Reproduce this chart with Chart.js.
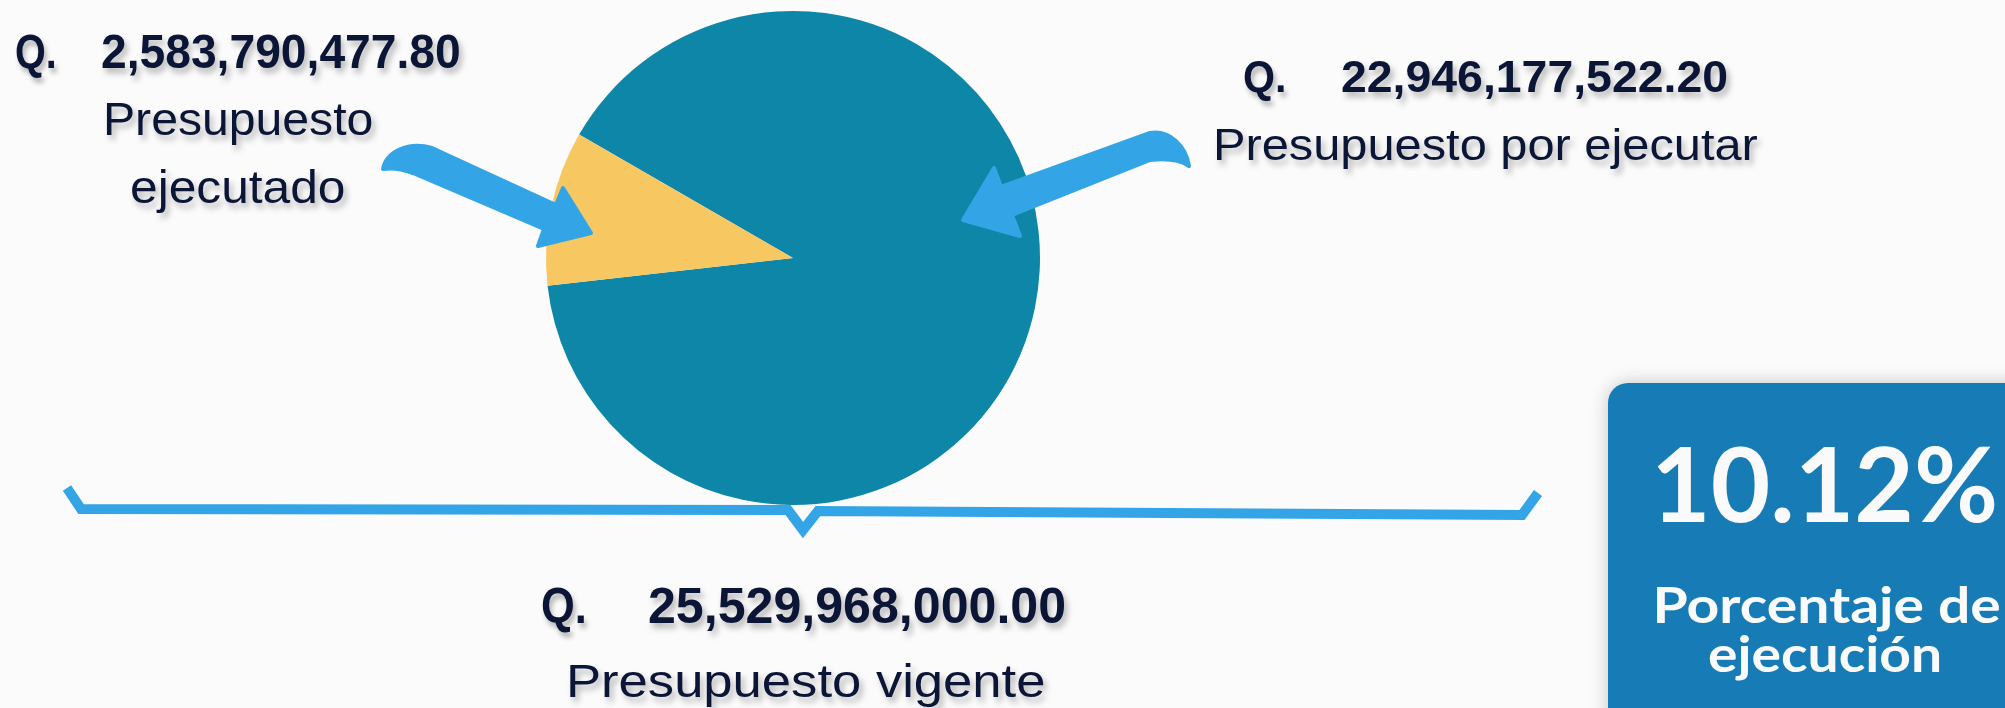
<!DOCTYPE html>
<html>
<head>
<meta charset="utf-8">
<script src="https://cdn.jsdelivr.net/npm/chart.js@4.4.1/dist/chart.umd.min.js"></script>
<style>
html, body { margin: 0; padding: 0; background: #fbfbfb; overflow: hidden; }
#wrap { position: relative; width: 2005px; height: 708px; }
#c { position: absolute; left: 0; top: 0; width: 2005px; height: 708px; }
.t { position: absolute; white-space: nowrap; line-height: 1; color: #0b1536;
     font-family: "Liberation Sans", Arial, sans-serif;
     text-shadow: 3px 5px 6px rgba(0,0,0,0.28); }
.w { color: #fafafa; font-family: Lato, sans-serif; text-shadow: none; }
#box { position: absolute; left: 1608px; top: 383px; width: 460px; height: 400px;
       background: #177cb5; border-radius: 20px; box-shadow: 0 0 18px rgba(0,0,0,0.22); }
</style>
</head>
<body>
<div id="wrap">
  <canvas id="c" width="2005" height="708"></canvas>
  <div id="box"></div>
</div>
<script>
// datos del presupuesto
var labels = ["Presupuesto por ejecutar", "Presupuesto ejecutado"];
var values = [22946177522.20, 2583790477.80];
var vigente = 25529968000.00;
var vigenteLabel = "Presupuesto vigente";
var pctLabel = ["Porcentaje de", "ejecución"];
var colors = ["#0e86a8", "#f7c862"];

function fmt(v) {
  return v.toLocaleString("en-US", { minimumFractionDigits: 2, maximumFractionDigits: 2 });
}
var pct = (values[1] / vigente * 100).toFixed(2) + "%";

// flechas y llave
var deco = {
  id: "deco",
  afterDraw: function(chart) {
    var ctx = chart.ctx;
    ctx.save();
    ctx.fillStyle = "#33a5e6";
    ctx.strokeStyle = "#33a5e6";
    ctx.lineJoin = "round";
    ctx.lineWidth = 4;

    // flecha izquierda
    ctx.beginPath();
    ctx.moveTo(383, 169);
    ctx.bezierCurveTo(386, 152, 408, 141, 432, 148);
    ctx.lineTo(556, 205);
    ctx.lineTo(563, 188);
    ctx.lineTo(591, 233);
    ctx.lineTo(538, 246);
    ctx.lineTo(544, 229);
    ctx.lineTo(413, 173);
    ctx.quadraticCurveTo(396, 167, 383, 169);
    ctx.closePath();
    ctx.fill();
    ctx.stroke();

    // flecha derecha
    ctx.beginPath();
    ctx.moveTo(1189, 166);
    ctx.bezierCurveTo(1186, 146, 1170, 130, 1150, 133);
    ctx.lineTo(1001, 187);
    ctx.lineTo(994, 168);
    ctx.lineTo(963, 220);
    ctx.lineTo(1020, 236);
    ctx.lineTo(1012, 215);
    ctx.lineTo(1150, 160);
    ctx.quadraticCurveTo(1176, 157, 1189, 166);
    ctx.closePath();
    ctx.fill();
    ctx.stroke();

    // llave inferior
    ctx.lineJoin = "miter";
    ctx.lineWidth = 10;
    ctx.beginPath();
    ctx.moveTo(67, 488);
    ctx.lineTo(81, 509);
    ctx.lineTo(788, 510);
    ctx.lineTo(803, 530);
    ctx.lineTo(818, 511);
    ctx.lineTo(1522, 515);
    ctx.lineTo(1538, 493);
    ctx.stroke();
    ctx.restore();
  }
};

var ctx = document.getElementById("c").getContext("2d");
var chart = new Chart(ctx, {
  type: "pie",
  data: {
    labels: labels,
    datasets: [{
      data: values,
      backgroundColor: colors,
      borderWidth: 0
    }]
  },
  options: {
    responsive: false,
    animation: false,
    rotation: 300,
    layout: { padding: { left: 546, right: 965, top: 11, bottom: 203 } },
    plugins: { legend: { display: false }, tooltip: { enabled: false } }
  },
  plugins: [deco]
});

// textos: [texto, x, baseline, tamaño, peso, ancho, alineación, blanco]
var ejec = labels[1].split(" ");
var texts = [
  ["Q.", 15, 68, 48, 700, 42, "l"],
  [fmt(values[1]), 101, 68, 48, 700, 360, "l"],
  [ejec[0], 238, 135, 46, 400, 270, "c"],
  [ejec[1], 238, 203, 46, 400, 216, "c"],
  ["Q.", 1243, 92, 44, 700, 43, "l"],
  [fmt(values[0]), 1341, 92, 44, 700, 387, "l"],
  [labels[0], 1213, 160, 45, 400, 545, "l"],
  ["Q.", 541, 623, 50, 700, 46, "l"],
  [fmt(vigente), 648, 623, 50, 700, 418, "l"],
  [vigenteLabel, 566, 697, 47, 400, 480, "l"],
  [pct, 1824, 522, 104, 700, 347, "c", true],
  [pctLabel[0], 1826, 623, 50, 700, 348, "c", true],
  [pctLabel[1], 1825, 672, 50, 700, 234, "c", true]
];

var wrap = document.getElementById("wrap");
texts.forEach(function(t) {
  var d = document.createElement("div");
  d.className = "t" + (t[7] ? " w" : "");
  d.style.fontSize = t[3] + "px";
  d.style.fontWeight = t[4];
  d.textContent = t[0];
  var m = document.createElement("span");
  m.style.cssText = "display:inline-block;width:0;height:0;vertical-align:baseline";
  d.appendChild(m);
  wrap.appendChild(d);
  var base = m.offsetTop;
  var w = d.offsetWidth;
  var left = t[6] == "c" ? t[1] - w / 2 : t[1];
  d.style.left = left + "px";
  d.style.top = (t[2] - base) + "px";
  d.style.transformOrigin = t[6] == "c" ? "50% 50%" : "0 50%";
  d.style.transform = "scaleX(" + (t[5] / w) + ")";
});
</script>
</body>
</html>
